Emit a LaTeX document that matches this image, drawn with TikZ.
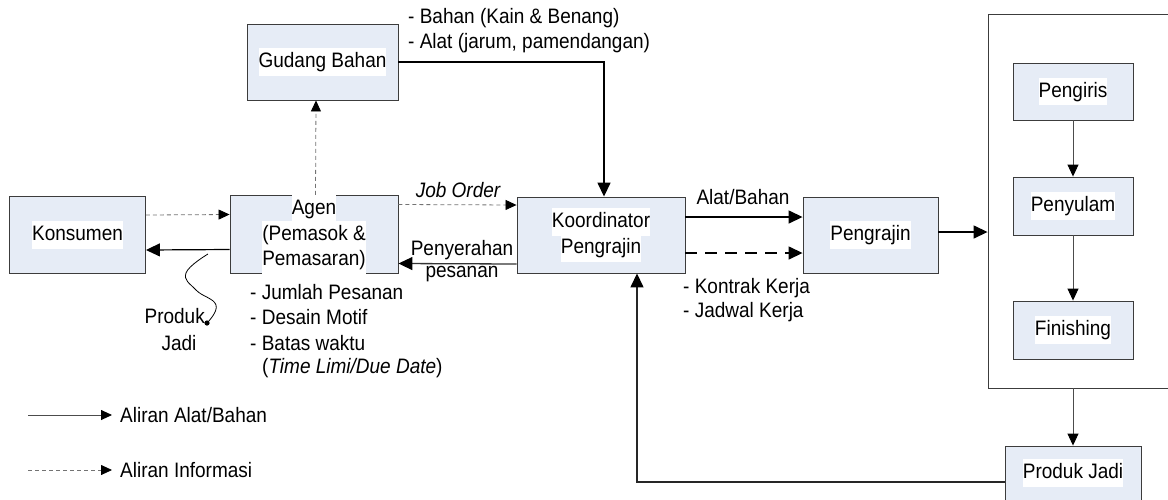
\documentclass[tikz,border=0pt]{standalone}
\usepackage{fontspec}
\usepackage{graphicx}
\setmainfont{Liberation Sans}
\usetikzlibrary{arrows.meta,positioning}
\definecolor{boxfill}{RGB}{230,236,246}
\definecolor{boxline}{RGB}{60,60,60}
\newcommand\ts[1]{\scalebox{1}[1.1]{#1}}
\newcommand\wb[1]{{\setlength{\fboxsep}{0pt}\colorbox{white}{\ts{\strut #1}}}}
\tikzset{
  box/.style={draw=boxline, line width=0.9pt, fill=boxfill, inner sep=0pt, align=center},
  lbl/.style={inner sep=0pt},
  bigtip/.style={-{Triangle[length=14pt,width=13pt]}},
  thintip/.style={-{Triangle[length=12pt,width=11pt,color=black]}},
  solidflow/.style={line width=1.5pt, draw=black, bigtip},
  solidgray/.style={line width=1.3pt, draw=black!80, -{Triangle[length=14pt,width=13pt,color=black]}},
  thinflow/.style={line width=0.9pt, draw=black!70, thintip},
  infoflow/.style={line width=0.8pt, draw=black!55, dash pattern=on 4pt off 3pt, -{Triangle[length=11pt,width=10pt,color=black]}},
  bigdash/.style={line width=1.5pt, draw=black, dash pattern=on 12pt off 8pt, bigtip},
}
\begin{document}
\begin{tikzpicture}[x=1pt,y=-1pt,font=\fontsize{19}{25}\selectfont]
\useasboundingbox (0,0) rectangle (1168,499);
\clip (0,0) rectangle (1168,499);
% boxes
\node[box, minimum width=136pt, minimum height=77pt] (kons) at (77.5,235) {\wb{Konsumen}};
\node[box, minimum width=168pt, minimum height=77pt] (agen) at (314,234.5) {\wb{Agen}\\[-3pt]\wb{(Pemasok \&}\\[-3pt]\wb{Pemasaran)}};
\node[box, minimum width=151pt, minimum height=76pt] (gud) at (322.5,62) {\wb{Gudang Bahan}};
\node[box, minimum width=168pt, minimum height=76pt] (koord) at (601,235) {\wb{Koordinator}\\[-2pt]\wb{Pengrajin}};
\node[box, minimum width=135pt, minimum height=76pt] (peng) at (870.5,235) {\wb{Pengrajin}};
\node[draw=boxline, line width=0.9pt, minimum width=187pt, minimum height=374pt, inner sep=0pt] (big) at (1081.5,201) {};
\node[box, minimum width=120pt, minimum height=57pt] (iris) at (1073,91.5) {\wb{Pengiris}};
\node[box, minimum width=120pt, minimum height=58pt] (sulam) at (1073,206) {\wb{Penyulam}};
\node[box, minimum width=120pt, minimum height=58pt] (fin) at (1073,330) {\wb{Finishing}};
\node[box, minimum width=136pt, minimum height=56pt] (pj) at (1073,474) {};
\node[lbl] (pjt) at (1073,473) {\wb{Produk Jadi}};
% connectors
\draw[infoflow] ([yshift=20pt]kons.east) -- ([yshift=20pt]agen.west);
\draw[solidflow, line width=1.2pt] ([yshift=-15pt]agen.west) -- ([yshift=-15pt]kons.east);
\draw[infoflow] ([xshift=1.5pt]agen.north) -- ([xshift=-6.5pt]gud.south);
\draw[infoflow] ([yshift=30pt]agen.east) -- ([yshift=30pt]koord.west);
\draw[solidgray] ([yshift=-29pt]koord.west) -- ([yshift=-29pt]agen.east);
\draw[solidflow] (gud.east) -| ([xshift=3pt]koord.north);
\draw[solidflow] ([yshift=18pt]koord.east) -- ([yshift=18pt]peng.west);
\draw[bigdash] ([yshift=-18pt]koord.east) -- ([yshift=-18pt]peng.west);
\draw[solidflow] ([yshift=3pt]peng.east) -- ([yshift=3pt]peng.east -| big.west);
\draw[thinflow] (iris.south) -- (sulam.north);
\draw[thinflow] (sulam.south) -- (fin.north);
\draw[thinflow] (pj.north |- big.south) -- (pj.north);
\draw[line width=1.5pt, draw=black!85, -{Triangle[length=14pt,width=13pt,color=black]}] ([yshift=-8pt]pj.west) -| ([xshift=36pt]koord.south);
% produk jadi squiggle
\coordinate (sq0) at (208,254);
\coordinate (sq1) at (186,273);
\coordinate (sq2) at (196,290);
\coordinate (sq3) at (216,305);
\coordinate (sq4) at (207,323);
\draw[line width=0.8pt] plot[smooth, tension=0.75] coordinates {(sq0) (sq1) (sq2) (sq3) (sq4)};
\fill (sq4) circle (2.6pt);
\node[lbl, anchor=east] (prod) at (205,316) {\ts{Produk}};
\node[lbl] (jadi) at (179,343) {\ts{Jadi}};
% labels
\node[lbl, anchor=west] (l1) at (408,18) {\ts{- Bahan (Kain \& Benang)}};
\node[lbl, anchor=west] (l2) at (408,43) {\ts{- Alat (jarum, pamendangan)}};
\node[lbl] (jo) at (458,190) {\ts{\itshape Job Order}};
\node[lbl] (pen1) at (462,250) {\ts{Penyerahan}};
\node[lbl] (pen2) at (462,274) {\ts{pesanan}};
\node[lbl] (ab) at (743,197) {\ts{Alat/Bahan}};
\node[lbl, anchor=west] (k1) at (683,288) {\ts{- Kontrak Kerja}};
\node[lbl, anchor=west] (k2) at (683,312) {\ts{- Jadwal Kerja}};
\node[lbl, anchor=west] (a1) at (250,292) {\ts{- Jumlah Pesanan}};
\node[lbl, anchor=west] (a2) at (250,317) {\ts{- Desain Motif}};
\node[lbl, anchor=west] (a3) at (250,343) {\ts{- Batas waktu}};
\node[lbl, anchor=west] (a4) at (262,368) {\ts{(\textit{Time Limi/Due Date})}};
% legend
\coordinate (lg1a) at (28,415);
\coordinate (lg1b) at (112,415);
\coordinate (lg2a) at (28,470);
\coordinate (lg2b) at (112,470);
\draw[line width=0.9pt, draw=black!70, -{Triangle[length=11pt,width=10pt,color=black]}] (lg1a) -- (lg1b);
\draw[infoflow] (lg2a) -- (lg2b);
\node[lbl, anchor=west] (lt1) at (120,415) {\ts{Aliran Alat/Bahan}};
\node[lbl, anchor=west] (lt2) at (120,470) {\ts{Aliran Informasi}};
\end{tikzpicture}
\end{document}
